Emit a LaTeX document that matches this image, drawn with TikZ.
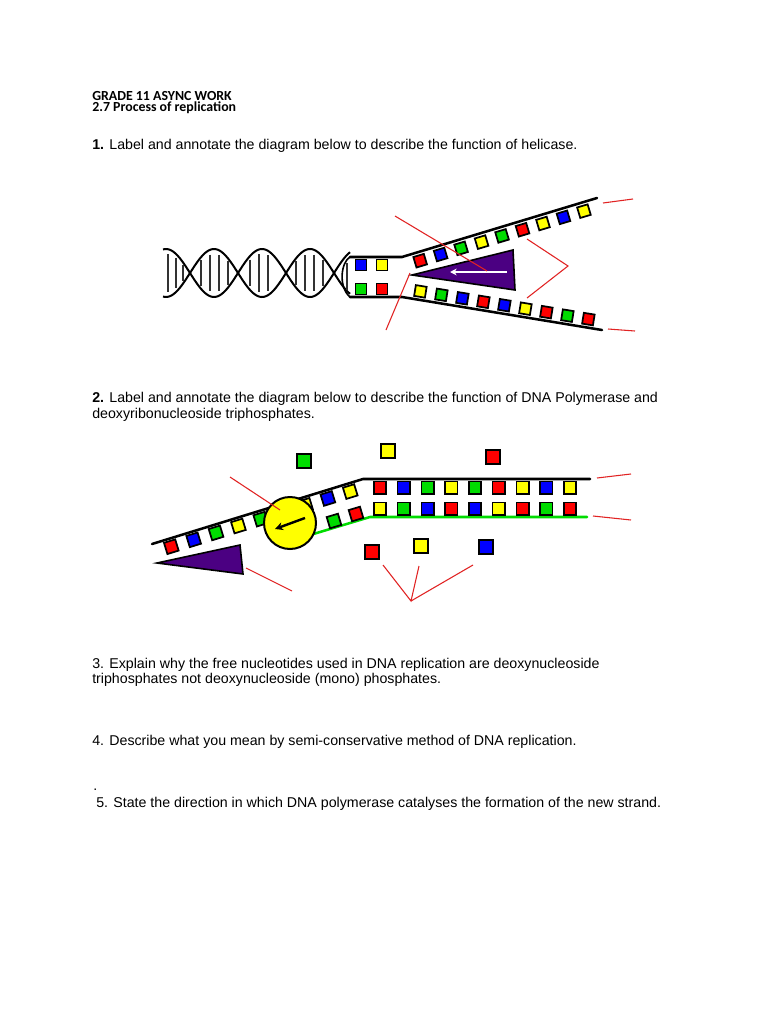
\documentclass[tikz,border=0pt]{standalone}
\usepackage{fontspec}
\setmainfont{Liberation Sans}
\newfontfamily\headfont{Carlito}
\usetikzlibrary{calc,arrows.meta}
\definecolor{nred}{RGB}{255,0,0}
\definecolor{nblue}{RGB}{0,0,255}
\definecolor{ngreen}{RGB}{0,220,0}
\definecolor{nyellow}{RGB}{255,255,0}
\definecolor{helicase}{RGB}{75,0,130}
\definecolor{note}{RGB}{225,35,35}
\tikzset{x=0.75pt, y=-0.75pt,
    task/.style={anchor=base west, inner sep=0pt, font=\fontsize{10.65}{13}\selectfont},
    head/.style={anchor=base west, inner sep=0pt, font=\headfont\bfseries\fontsize{10.4}{12}\selectfont},
    base/.style={draw, line width=1.3pt, minimum size=8.2pt, inner sep=0pt},
    base2/.style={base, minimum size=9.2pt},
    freebase/.style={base, minimum size=10.6pt},
    strand/.style={line width=1.9pt, line cap=round},
    helixstrand/.style={line width=1.5pt},
    rung/.style={line width=0.9pt, black!80},
    pointer/.style={note, line width=0.8pt},
    }

\begin{document}
\begin{tikzpicture}
\useasboundingbox[fill=white] (0,0) rectangle (768,1024);
% heading and questions
\node[head] (grade) at (92,100) {GRADE 11 ASYNC WORK};
\node[head] (topic) at (92,112) {2.7 Process of replication};
\node[task] (q1) at (92,149.5) {\textbf{1.} Label and annotate the diagram below to describe the function of helicase.};
\node[task] (q2) at (92,402) {\textbf{2.} Label and annotate the diagram below to describe the function of DNA Polymerase and};
\node[task] (q2b) at (92,418.5) {deoxyribonucleoside triphosphates.};
\node[task] (q3) at (92,668) {3. Explain why the free nucleotides used in DNA replication are deoxynucleoside};
\node[task] (q3b) at (92,683.5) {triphosphates not deoxynucleoside (mono) phosphates.};
\node[task] (q4) at (92,745) {4. Describe what you mean by semi-conservative method of DNA replication.};
\node[task] (dot) at (93,790) {.};
\node[task] (q5) at (96,807) {5. State the direction in which DNA polymerase catalyses the formation of the new strand.};

% diagram 1: helix
\draw[helixstrand] plot[domain=163:350, samples=90] (\x,{273-24*sin(3.75*(\x-190))});
\draw[helixstrand] plot[domain=163:350, samples=90] (\x,{273+24*sin(3.75*(\x-190))});
\foreach \x in {168,176,183,201,210,219,228,250,259,268,296,305,314,323}
  \draw[rung] (\x,{273-19*abs(sin(3.75*(\x-190)))}) -- (\x,{273+19*abs(sin(3.75*(\x-190)))});
% diagram 1: fork
\coordinate (b0) at (350,257); \coordinate (u0) at (402,257); \coordinate (u1) at (597,198);
\coordinate (b1) at (350,297); \coordinate (l0) at (402,297); \coordinate (l1) at (602,330);
\draw[strand] (b0) -- (u0) -- (u1);
\draw[strand] (b1) -- (l0) -- (l1);
\draw[line width=1.2pt] (b0) .. controls (341,262) and (338,287) .. (b1);
\draw[rung] (347,263) -- (347,290);
\node[base, fill=nblue] (bp1) at (361,265) {};
\node[base, fill=nyellow] (bp2) at (382,265) {};
\node[base, fill=ngreen] (bp3) at (361,289) {};
\node[base, fill=nred] (bp4) at (382,289) {};
\foreach \c [count=\i from 0] in {nred,nblue,ngreen,nyellow,ngreen,nred,nyellow,nblue,nyellow}
  \node[base, fill=\c, rotate=16.7] (up\i) at ($(u0)!{0.08+0.105*\i}!(u1)!6.6pt!-90:(u1)$) {};
\foreach \c [count=\i from 0] in {nyellow,ngreen,nblue,nred,nblue,nyellow,nred,ngreen,nred}
  \node[base, fill=\c, rotate=-9.3] (lo\i) at ($(l0)!{0.085+0.105*\i}!(l1)!6.4pt!90:(l1)$) {};
\draw[line width=1.2pt, fill=helicase] (412,275) -- (513,250) -- (515,290) -- cycle;
\draw[white, line width=1.5pt, -{Stealth[length=5pt,width=5pt]}] (507,272) -- (450,272);
% diagram 1: pointers
\coordinate (h1) at (395,216); \coordinate (h1e) at (487,271);
\coordinate (h2) at (410,273); \coordinate (h2e) at (386,330);
\coordinate (h3) at (568,266); \coordinate (h3a) at (527,239); \coordinate (h3b) at (527,298);
\coordinate (h4) at (603,203); \coordinate (h4e) at (633,199);
\coordinate (h5) at (608,329); \coordinate (h5e) at (635,331);
\draw[pointer] (h1) -- (h1e);
\draw[pointer] (h2) -- (h2e);
\draw[pointer] (h3a) -- (h3) -- (h3b);
\draw[pointer] (h4) -- (h4e);
\draw[pointer] (h5) -- (h5e);

% diagram 2: template strand
\coordinate (p0) at (152,544); \coordinate (p1) at (363,479); \coordinate (p2) at (590,479);
\draw[strand] (p0) -- (p1) -- (p2);
\foreach \c [count=\i from 0] in {nred,nblue,ngreen,nyellow,ngreen,nred,nyellow,nblue,nyellow}
  \node[base, minimum size=8.8pt, fill=\c, rotate=17.1] (tp\i) at ($(p0)!{0.08+0.106*\i}!(p1)!6.2pt!-90:(p1)$) {};
\foreach \c [count=\i from 0] in {nred,nblue,ngreen,nyellow,ngreen,nred,nyellow,nblue,nyellow}
  \node[base2, fill=\c] (tr\i) at ({380+23.75*\i},487.5) {};
% diagram 2: new strand
\coordinate (g0) at (305,536.5); \coordinate (g1) at (370,517); \coordinate (g2) at (587,517);
\draw[strand, ngreen] (g0) -- (g1) -- (g2);
\node[base, minimum size=8.8pt, fill=ngreen, rotate=16.7] (ns1) at (334,521) {};
\node[base, minimum size=8.8pt, fill=nred, rotate=16.7] (ns2) at (356,514) {};
\foreach \c [count=\i from 0] in {nyellow,ngreen,nblue,nred,nblue,nyellow,nred,ngreen,nred}
  \node[base2, fill=\c] (nr\i) at ({380+23.75*\i},508.5) {};
% polymerase and helicase
\node[circle, draw, line width=1.5pt, fill=nyellow, minimum size=39pt] (pol) at (290,523) {};
\draw[line width=1.8pt, -{Stealth[length=6pt,width=6pt]}] ([shift={(15,-5)}]pol.center) -- ([shift={(-15,6)}]pol.center);
\draw[line width=1.2pt, fill=helicase] (157,563) -- (240,545) -- (243,574) -- cycle;
% free nucleotides
\node[freebase, fill=ngreen] (f1) at (304,461) {};
\node[freebase, fill=nyellow] (f2) at (388,451) {};
\node[freebase, fill=nred] (f3) at (493,457) {};
\node[freebase, fill=nred] (f4) at (372,552) {};
\node[freebase, fill=nyellow] (f5) at (421,546) {};
\node[freebase, fill=nblue] (f6) at (486,547) {};
% diagram 2: pointers
\coordinate (d1) at (230,477); \coordinate (d1e) at (280,510);
\coordinate (d2) at (292,591); \coordinate (d2e) at (246,568);
\coordinate (d3) at (411,601); \coordinate (d3a) at (383,565); \coordinate (d3b) at (419,566); \coordinate (d3c) at (473,565);
\coordinate (d4) at (597,478); \coordinate (d4e) at (631,474);
\coordinate (d5) at (593,516); \coordinate (d5e) at (631,520);
\draw[pointer] (d1) -- (d1e);
\draw[pointer] (d2) -- (d2e);
\draw[pointer] (d3a) -- (d3) -- (d3b);
\draw[pointer] (d3) -- (d3c);
\draw[pointer] (d4) -- (d4e);
\draw[pointer] (d5) -- (d5e);
\end{tikzpicture}
\end{document}
